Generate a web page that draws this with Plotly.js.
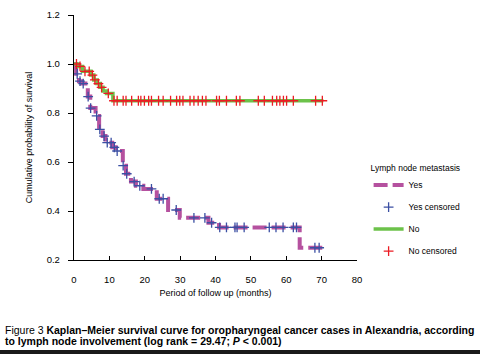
<!DOCTYPE html>
<html>
<head>
<meta charset="utf-8">
<script src="https://cdn.plot.ly/plotly-3.0.1.min.js"></script>
<style>html,body{margin:0;padding:0;background:#fff;}#chart{width:480px;height:354px;}</style>
</head>
<body>
<div id="chart"></div>
<script>
// ---- Data ----
// "Yes" (lymph node metastasis) Kaplan–Meier step curve
const yesTimes = [0, 0.6, 1.4, 2.2, 3.9, 4.6, 6.1, 7.1, 8.1, 8.9, 10.8, 11.8, 13.8, 14.7, 16.1, 17.5, 19.6, 23.4, 26.6, 29.9, 38.0, 41.0, 63.8];
const yesSurv  = [1.0, 0.96, 0.93, 0.92, 0.867, 0.82, 0.788, 0.733, 0.706, 0.679, 0.66, 0.645, 0.585, 0.552, 0.52, 0.503, 0.49, 0.45, 0.404, 0.372, 0.352, 0.333, 0.25];
const yesEnd = 70.6;
const yesCensored = [0.9, 1.7, 2.6, 4.0, 4.7, 6.4, 7.3, 8.5, 9.4, 10.5, 11.4, 12.2, 13.9, 14.9, 17.0, 18.6, 21.9, 24.1, 25.2, 28.9, 33.9, 37.0, 38.9, 41.2, 43.1, 45.5, 46.1, 48.1, 55.2, 57.1, 59.1, 62.0, 62.9, 68.1, 69.3];

// "No" (no lymph node metastasis) Kaplan–Meier step curve
const noTimes = [0, 1.2, 2.4, 4.8, 5.6, 6.5, 7.4, 8.2, 9.2, 11.0];
const noSurv  = [1.0, 0.99, 0.97, 0.955, 0.935, 0.92, 0.905, 0.89, 0.88, 0.85];
const noEnd = 70.5;
const noCensored = [0.7, 1.7, 3.1, 4.3, 5.2, 5.9, 6.9, 7.8, 9.7, 11.3, 12.2, 13.9, 14.7, 16.3, 18.2, 18.9, 19.9, 21.1, 21.9, 23.9, 25.2, 27.3, 29.0, 29.9, 30.8, 32.8, 33.9, 35.1, 36.3, 37.3, 40.3, 41.1, 43.1, 45.9, 46.9, 52.1, 53.8, 56.1, 57.3, 58.2, 59.2, 60.1, 62.0, 68.3, 70.2];

const xTicks = [0, 10, 20, 30, 40, 50, 60, 70, 80];
const yTicks = [0.2, 0.4, 0.6, 0.8, 1.0, 1.2];

// ---- helpers ----
function survAt(times, surv, t) {
  let s = surv[0];
  for (let i = 0; i < times.length; i++) { if (times[i] <= t) s = surv[i]; }
  return s;
}

const FONT = 'Liberation Sans, Arial, Helvetica, sans-serif';
const magenta = '#b5519f';
const green = '#6cc24a';
const blue = '#3b4fa3';
const red = '#ec1c24';

const traces = [
  {
    x: yesTimes.concat([yesEnd]), y: yesSurv.concat([yesSurv[yesSurv.length - 1]]),
    mode: 'lines', line: {shape: 'hv', color: magenta, width: 4, dash: '14px,5px'},
    name: 'Yes', legendgroup: 'a'
  },
  {
    x: yesCensored, y: yesCensored.map(t => survAt(yesTimes, yesSurv, t)),
    mode: 'markers', marker: {symbol: 'cross-thin', size: 7, color: blue, line: {color: blue, width: 1.3}},
    name: 'Yes censored', legendgroup: 'b'
  },
  {
    x: noTimes.concat([noEnd]), y: noSurv.concat([noSurv[noSurv.length - 1]]),
    mode: 'lines', line: {shape: 'hv', color: green, width: 3.5},
    name: 'No', legendgroup: 'c'
  },
  {
    x: noCensored, y: noCensored.map(t => survAt(noTimes, noSurv, t)),
    mode: 'markers', marker: {symbol: 'cross-thin', size: 7, color: red, line: {color: red, width: 1.3}},
    name: 'No censored', legendgroup: 'd'
  }
];

const layout = {
  width: 480, height: 354,
  margin: {l: 74, r: 123, t: 15, b: 94},
  paper_bgcolor: '#ffffff', plot_bgcolor: '#ffffff',
  font: {family: FONT, size: 9, color: '#000'},
  showlegend: true,
  legend: {
    x: 1.041, xanchor: 'left', y: 0.41, yanchor: 'top',
    traceorder: 'grouped', tracegroupgap: 3,
    font: {family: FONT, size: 8.5, color: '#000'},
    title: {text: 'Lymph node metastasis', font: {family: FONT, size: 8.5, color: '#000'}},
    bgcolor: 'rgba(0,0,0,0)'
  },
  xaxis: {
    range: [0, 80], tickmode: 'array', tickvals: xTicks, ticktext: xTicks.map(String),
    ticks: 'inside', ticklen: 4, tickcolor: '#000', tickwidth: 1,
    showline: true, linecolor: '#000', linewidth: 1.2, showgrid: false, zeroline: false,
    ticklabelstandoff: 10,
    tickfont: {family: FONT, size: 9.5},
    title: {text: 'Period of follow up (months)', font: {family: FONT, size: 9}, standoff: 6}
  },
  yaxis: {
    range: [0.2, 1.2], tickmode: 'array', tickvals: yTicks, ticktext: yTicks.map(v => v.toFixed(1)),
    ticks: 'outside', ticklen: 5, tickcolor: '#000', tickwidth: 1,
    showline: true, linecolor: '#000', linewidth: 1.2, showgrid: false, zeroline: false,
    ticklabelstandoff: 6,
    tickfont: {family: FONT, size: 9.5},
    title: {text: 'Cumulative probability of survival', font: {family: FONT, size: 9}, standoff: 12}
  },
  annotations: [
    {xref: 'paper', yref: 'paper', x: -0.2509, y: -0.2857, xanchor: 'left', yanchor: 'middle', showarrow: false,
     align: 'left', font: {family: FONT, size: 10.5, color: '#000'},
     text: 'Figure 3 <b>Kaplan–Meier survival curve for oropharyngeal cancer cases in Alexandria, according</b>'},
    {xref: 'paper', yref: 'paper', x: -0.2509, y: -0.3306, xanchor: 'left', yanchor: 'middle', showarrow: false,
     align: 'left', font: {family: FONT, size: 10.5, color: '#000'},
     text: '<b>to lymph node involvement (log rank = 29.47; <i>P</i> &lt; 0.001)</b>'}
  ],
  shapes: [
    {type: 'rect', xref: 'paper', yref: 'paper', x0: -0.27, x1: 1.45, y0: -0.3675, y1: -0.40,
     fillcolor: '#1a1a1a', line: {width: 0}, layer: 'above'}
  ]
};

Plotly.newPlot('chart', traces, layout, {displayModeBar: false, staticPlot: true});
</script>
</body>
</html>
